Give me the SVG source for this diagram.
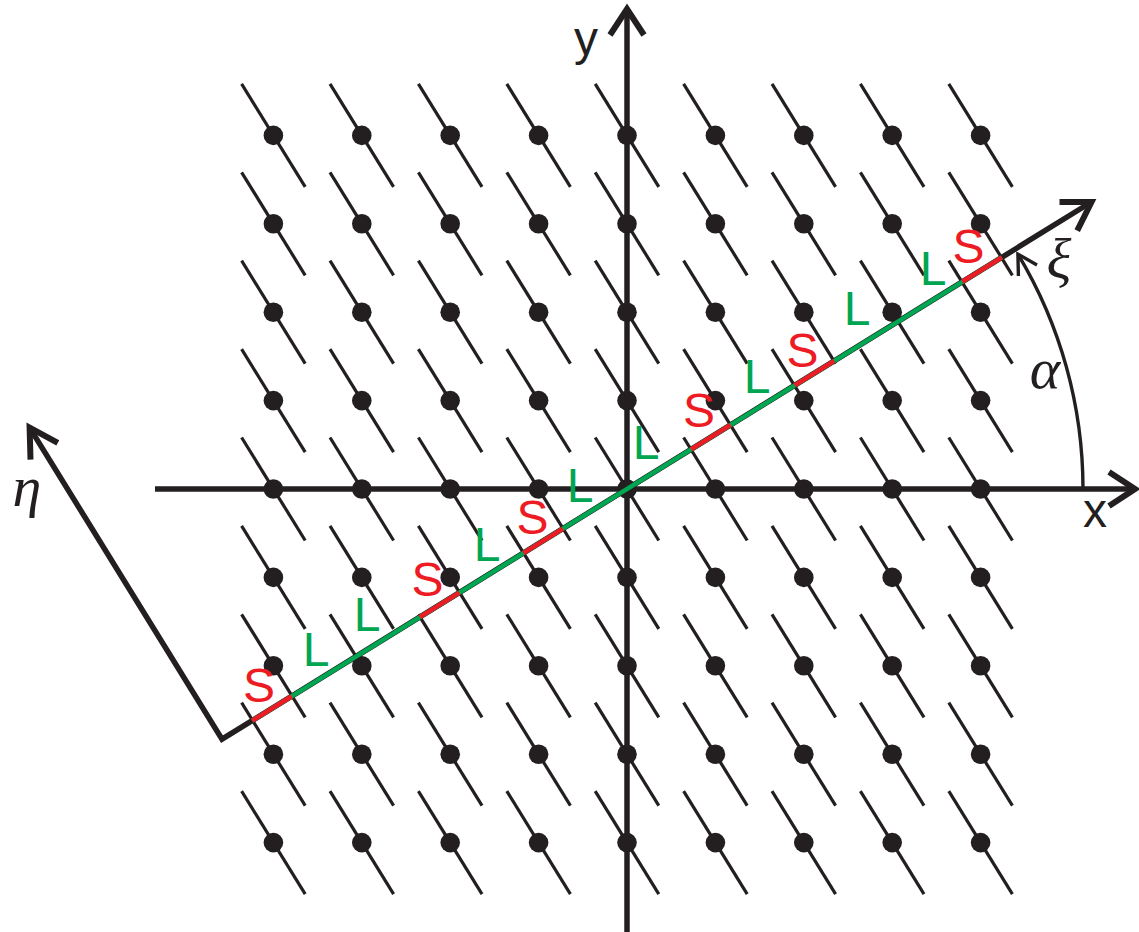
<svg xmlns="http://www.w3.org/2000/svg" xmlns:xlink="http://www.w3.org/1999/xlink" width="1139" height="932" viewBox="0 0 1139 932">
<defs>
<style>
.seg{stroke:#231F20;stroke-width:3.2;fill:none}
.dot{fill:#231F20}
.ax{stroke:#231F20;stroke-width:5.5;fill:none;stroke-linejoin:miter}
.head{stroke:#231F20;stroke-width:6;fill:none;stroke-linejoin:miter;stroke-miterlimit:10}
.arc{stroke:#231F20;stroke-width:3.4;fill:none}
.g{stroke:#00A651;stroke-width:4.5;fill:none}
.r{stroke:#ED1C24;stroke-width:4.5;fill:none}
.lab{font-family:"Liberation Sans",Arial,sans-serif;font-size:48px;text-anchor:middle}
.S{fill:#ED1C24}
.L{fill:#00A651}
.axl{font-family:"Liberation Sans",Arial,sans-serif;font-size:48px;fill:#231F20;text-anchor:middle}
.gr{font-family:"Liberation Serif","Times New Roman",serif;font-style:italic;font-size:58px;fill:#231F20;text-anchor:middle}
</style>
<g id="pt">
<line class="seg" x1="-31.8" y1="-51.5" x2="31.8" y2="51.5"/>
<circle class="dot" r="9.8"/>
</g>
</defs>
<g id="lattice">
<use xlink:href="#pt" x="273.4" y="135.4"/><use xlink:href="#pt" x="361.8" y="135.4"/><use xlink:href="#pt" x="450.2" y="135.4"/><use xlink:href="#pt" x="538.6" y="135.4"/><use xlink:href="#pt" x="627" y="135.4"/><use xlink:href="#pt" x="715.4" y="135.4"/><use xlink:href="#pt" x="803.8" y="135.4"/><use xlink:href="#pt" x="892.2" y="135.4"/><use xlink:href="#pt" x="980.6" y="135.4"/>
<use xlink:href="#pt" x="273.4" y="223.8"/><use xlink:href="#pt" x="361.8" y="223.8"/><use xlink:href="#pt" x="450.2" y="223.8"/><use xlink:href="#pt" x="538.6" y="223.8"/><use xlink:href="#pt" x="627" y="223.8"/><use xlink:href="#pt" x="715.4" y="223.8"/><use xlink:href="#pt" x="803.8" y="223.8"/><use xlink:href="#pt" x="892.2" y="223.8"/><use xlink:href="#pt" x="980.6" y="223.8"/>
<use xlink:href="#pt" x="273.4" y="312.2"/><use xlink:href="#pt" x="361.8" y="312.2"/><use xlink:href="#pt" x="450.2" y="312.2"/><use xlink:href="#pt" x="538.6" y="312.2"/><use xlink:href="#pt" x="627" y="312.2"/><use xlink:href="#pt" x="715.4" y="312.2"/><use xlink:href="#pt" x="803.8" y="312.2"/><use xlink:href="#pt" x="892.2" y="312.2"/><use xlink:href="#pt" x="980.6" y="312.2"/>
<use xlink:href="#pt" x="273.4" y="400.6"/><use xlink:href="#pt" x="361.8" y="400.6"/><use xlink:href="#pt" x="450.2" y="400.6"/><use xlink:href="#pt" x="538.6" y="400.6"/><use xlink:href="#pt" x="627" y="400.6"/><use xlink:href="#pt" x="715.4" y="400.6"/><use xlink:href="#pt" x="803.8" y="400.6"/><use xlink:href="#pt" x="892.2" y="400.6"/><use xlink:href="#pt" x="980.6" y="400.6"/>
<use xlink:href="#pt" x="273.4" y="489"/><use xlink:href="#pt" x="361.8" y="489"/><use xlink:href="#pt" x="450.2" y="489"/><use xlink:href="#pt" x="538.6" y="489"/><use xlink:href="#pt" x="627" y="489"/><use xlink:href="#pt" x="715.4" y="489"/><use xlink:href="#pt" x="803.8" y="489"/><use xlink:href="#pt" x="892.2" y="489"/><use xlink:href="#pt" x="980.6" y="489"/>
<use xlink:href="#pt" x="273.4" y="577.4"/><use xlink:href="#pt" x="361.8" y="577.4"/><use xlink:href="#pt" x="450.2" y="577.4"/><use xlink:href="#pt" x="538.6" y="577.4"/><use xlink:href="#pt" x="627" y="577.4"/><use xlink:href="#pt" x="715.4" y="577.4"/><use xlink:href="#pt" x="803.8" y="577.4"/><use xlink:href="#pt" x="892.2" y="577.4"/><use xlink:href="#pt" x="980.6" y="577.4"/>
<use xlink:href="#pt" x="273.4" y="665.8"/><use xlink:href="#pt" x="361.8" y="665.8"/><use xlink:href="#pt" x="450.2" y="665.8"/><use xlink:href="#pt" x="538.6" y="665.8"/><use xlink:href="#pt" x="627" y="665.8"/><use xlink:href="#pt" x="715.4" y="665.8"/><use xlink:href="#pt" x="803.8" y="665.8"/><use xlink:href="#pt" x="892.2" y="665.8"/><use xlink:href="#pt" x="980.6" y="665.8"/>
<use xlink:href="#pt" x="273.4" y="754.2"/><use xlink:href="#pt" x="361.8" y="754.2"/><use xlink:href="#pt" x="450.2" y="754.2"/><use xlink:href="#pt" x="538.6" y="754.2"/><use xlink:href="#pt" x="627" y="754.2"/><use xlink:href="#pt" x="715.4" y="754.2"/><use xlink:href="#pt" x="803.8" y="754.2"/><use xlink:href="#pt" x="892.2" y="754.2"/><use xlink:href="#pt" x="980.6" y="754.2"/>
<use xlink:href="#pt" x="273.4" y="842.6"/><use xlink:href="#pt" x="361.8" y="842.6"/><use xlink:href="#pt" x="450.2" y="842.6"/><use xlink:href="#pt" x="538.6" y="842.6"/><use xlink:href="#pt" x="627" y="842.6"/><use xlink:href="#pt" x="715.4" y="842.6"/><use xlink:href="#pt" x="803.8" y="842.6"/><use xlink:href="#pt" x="892.2" y="842.6"/><use xlink:href="#pt" x="980.6" y="842.6"/>
</g>
<g id="axes">
<line class="ax" x1="155" y1="489" x2="1134" y2="489"/>
<polyline class="head" points="1109,472 1135,489 1109,506"/>
<line class="ax" x1="627" y1="932" x2="627" y2="11"/>
<polyline class="head" points="610,35 627,9 644,35"/>
<polyline class="ax" points="29.6,427.6 222,739.2 1089,203.5"/>
<polyline class="head" points="57.8,442.8 29.6,427.6 30.5,459.6"/>
<polyline class="head" points="1059.5,202 1091.5,202 1077.2,230.6"/>
</g>
<g id="angle">
<path class="arc" d="M1083,489 A456,456 0 0 0 1017.9,254.1"/>
<polyline class="arc" points="1018.4,276 1017.9,254.1 1037,265"/>
</g>
<g id="chain">
<polyline class="g" points="252.11,720.69 1001.89,257.31"/>
<line class="r" x1="252.11" y1="720.69" x2="291.69" y2="696.23"/>
<line class="r" x1="419.76" y1="617.08" x2="459.35" y2="592.62"/>
<line class="r" x1="523.38" y1="553.04" x2="562.96" y2="528.58"/>
<line class="r" x1="691.04" y1="449.42" x2="730.62" y2="424.96"/>
<line class="r" x1="794.65" y1="385.38" x2="834.24" y2="360.92"/>
<line class="r" x1="962.31" y1="281.77" x2="1001.89" y2="257.31"/>
</g>
<g id="chain-labels" class="lab">
<text class="S" x="259" y="702">S</text>
<text class="L" x="316" y="666">L</text>
<text class="L" x="367" y="631">L</text>
<text class="S" x="427.5" y="596">S</text>
<text class="L" x="487" y="561">L</text>
<text class="S" x="532.5" y="534">S</text>
<text class="L" x="580" y="502">L</text>
<text class="L" x="646" y="459">L</text>
<text class="S" x="699" y="427">S</text>
<text class="L" x="757" y="393">L</text>
<text class="S" x="802.5" y="367">S</text>
<text class="L" x="857" y="325">L</text>
<text class="L" x="933" y="285">L</text>
<text class="S" x="968.5" y="263">S</text>
</g>
<g id="axis-labels">
<text class="axl" x="586" y="55">y</text>
<text class="axl" x="1095" y="527">x</text>
<text class="gr" x="27" y="506">η</text>
<text class="gr" x="1059" y="278">ξ</text>
<text class="gr" x="1045" y="388">α</text>
</g>
</svg>
